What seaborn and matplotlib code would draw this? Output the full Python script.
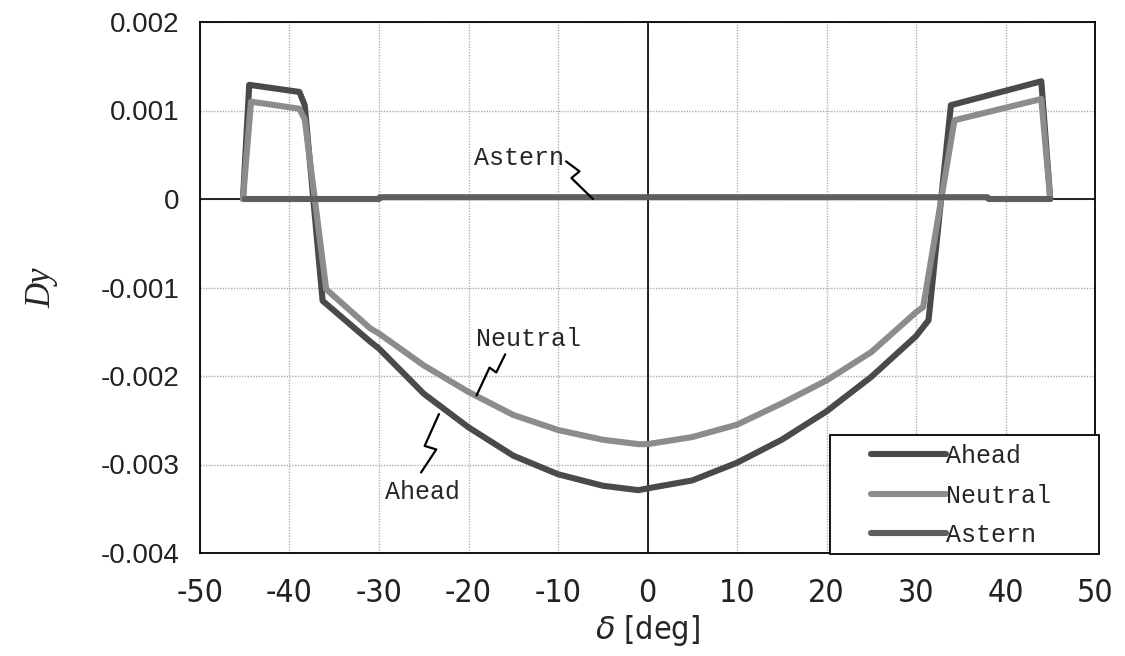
import numpy as np
import pandas as pd
import matplotlib
matplotlib.use("Agg")
import matplotlib.pyplot as plt
import seaborn as sns
from matplotlib import font_manager as fm
from matplotlib.lines import Line2D
from matplotlib.patches import Rectangle

# ---- data ----
ahead_x = [-45.2, -44.5, -38.9, -38.3, -36.3, -31, -30, -25, -20, -15, -10, -5, -1, 0, 5, 10, 15, 20, 25, 30, 31.4, 33.9, 44.0, 45.0]
ahead_y = [0.0, 0.00129, 0.00121, 0.00106, -0.00115, -0.00161, -0.00169, -0.00220, -0.00258, -0.00290, -0.00311, -0.00324, -0.00329,
           -0.00327, -0.00318, -0.00298, -0.00272, -0.00240, -0.00201, -0.00155, -0.00137, 0.00106, 0.00133, 0.0]
neutral_x = [-45.2, -44.3, -38.9, -38.3, -35.9, -31, -30, -25, -20, -15, -10, -5, -1, 0, 5, 10, 15, 20, 25, 30, 30.8, 34.3, 44.0, 45.0]
neutral_y = [0.0, 0.00110, 0.00102, 0.00090, -0.00102, -0.00146, -0.00152, -0.00188, -0.00218, -0.00244, -0.00261, -0.00272, -0.00277,
             -0.00277, -0.00269, -0.00255, -0.00231, -0.00205, -0.00173, -0.00128, -0.00122, 0.00089, 0.00113, 0.0]
astern_x = [-45.0, -30.0, -29.9, 38.0, 38.1, 45.0]
astern_y = [0.0, 0.0, 0.00002, 0.00002, 0.0, 0.0]

series_names = ["Ahead", "Neutral", "Astern"]
x_ticks = [-50, -40, -30, -20, -10, 0, 10, 20, 30, 40, 50]
y_ticks = [-0.004, -0.003, -0.002, -0.001, 0, 0.001, 0.002]
y_tick_labels = ["-0.004", "-0.003", "-0.002", "-0.001", "0", "0.001", "0.002"]

colors = {"Ahead": "#4a4a4a", "Neutral": "#8c8c8c", "Astern": "#5e5e5e"}

df = pd.concat([
    pd.DataFrame({"delta": ahead_x, "Dy": ahead_y, "series": "Ahead"}),
    pd.DataFrame({"delta": neutral_x, "Dy": neutral_y, "series": "Neutral"}),
    pd.DataFrame({"delta": astern_x, "Dy": astern_y, "series": "Astern"}),
], ignore_index=True)

sns.set_theme(style="white")
plt.rcParams["font.family"] = ["Liberation Sans", "DejaVu Sans"]

# find a condensed / narrow sans font for the x axis
narrow_path = None
for f in fm.fontManager.ttflist:
    if f.name == "Liberation Sans Narrow" and f.style == "normal" and f.weight in (400, "normal"):
        narrow_path = f.fname
        break
if narrow_path is None:
    for f in fm.fontManager.ttflist:
        fn = f.fname.replace("\\", "/").split("/")[-1]
        if fn == "DejaVuSansCondensed.ttf":
            narrow_path = f.fname
            break
if narrow_path is not None:
    narrow_fp = lambda size: fm.FontProperties(fname=narrow_path, size=size)
else:
    narrow_fp = lambda size: fm.FontProperties(family="Liberation Sans", size=size)
mono = "Liberation Mono"

fig = plt.figure(figsize=(11.25, 6.56), dpi=100)
ax = fig.add_axes([200 / 1125, 1 - 553 / 656, 895 / 1125, 531 / 656])

ax.axhline(0, color="black", lw=1.2, zorder=1)
ax.axvline(0, color="black", lw=1.2, zorder=1)

sns.lineplot(data=df, x="delta", y="Dy", hue="series", hue_order=series_names,
             palette=colors, sort=False, estimator=None, linewidth=4.4,
             legend=False, ax=ax, zorder=3)

ax.set_xlim(-50, 50)
ax.set_ylim(-0.004, 0.002)
ax.set_xticks(x_ticks)
ax.set_xticklabels([str(t) for t in x_ticks], fontproperties=narrow_fp(23), color="#222222")
ax.set_yticks(y_ticks)
ax.set_yticklabels(y_tick_labels, fontsize=20, color="#222222")
ax.tick_params(axis="x", length=0, pad=18)
ax.tick_params(axis="y", length=0, pad=15)
ax.grid(True, color="#b0b0b0", linestyle=(0, (1, 1)), linewidth=1.0)
ax.set_axisbelow(True)
for s in ax.spines.values():
    s.set_color("black")
    s.set_linewidth(1.3)

ax.set_xlabel("$\\delta$ [deg]", fontproperties=narrow_fp(23), labelpad=3)
ax.set_ylabel("Dy", fontsize=25, fontstyle="italic", fontfamily="Liberation Serif", labelpad=30)

# legend box and legend
box = Rectangle((0.704, -0.002), 0.3, 0.224, transform=ax.transAxes, facecolor="white",
                edgecolor="black", linewidth=1.3, zorder=6, clip_on=False)
ax.add_patch(box)
handles = [Line2D([0], [0], color=colors[n], lw=4.4) for n in series_names]
leg = ax.legend(handles, series_names, loc="center left", bbox_to_anchor=(0.7497, 0.108),
                prop={"family": mono, "size": 18}, frameon=False,
                handlelength=3.0, handletextpad=0.0, labelspacing=0.62,
                borderpad=0, borderaxespad=0)
leg.set_zorder(7)

# annotations with zigzag leaders
ann_font = {"family": mono, "size": 18}
ax.text(-19.4, 0.00046, "Astern", va="center", ha="left", fontdict=ann_font, zorder=5)
ax.text(-19.2, -0.00158, "Neutral", va="center", ha="left", fontdict=ann_font, zorder=5)
ax.text(-29.3, -0.00331, "Ahead", va="center", ha="left", fontdict=ann_font, zorder=5)
leaders = [
    ([-9.1, -7.6, -8.5, -6.1], [0.000425, 0.000312, 0.000237, 0.0]),
    ([-15.9, -16.9, -17.65, -19.1], [-0.001755, -0.00196, -0.001905, -0.00222]),
    ([-23.3, -24.9, -23.6, -25.3], [-0.00243, -0.00279, -0.00283, -0.00309]),
]
for lx, ly in leaders:
    ax.plot(lx, ly, color="black", lw=1.6, zorder=5)

fig.savefig("out.png", dpi=100)
